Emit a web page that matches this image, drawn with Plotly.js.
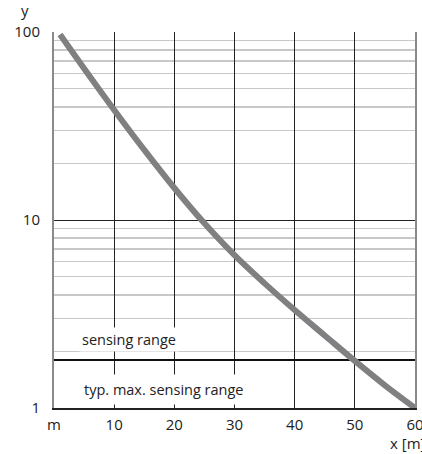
<!DOCTYPE html>
<html>
<head>
<meta charset="utf-8">
<script src="https://cdn.plot.ly/plotly-3.0.1.min.js"></script>
<style>html,body{margin:0;padding:0;background:#fff;overflow:hidden}#chart{width:422px;height:454px}</style>
</head>
<body>
<div id="chart"></div>
<script>
// Data
const distance = [1, 5, 10, 15, 20, 25, 30, 35, 40, 45, 50, 55, 60];
const yValue   = [97, 64, 38.5, 23.6, 14.8, 9.6, 6.5, 4.6, 3.32, 2.43, 1.78, 1.32, 1.0];
const sensingRangeX = [0, 60];
const sensingRangeLevel = 1.8;
const xTickVals = [0, 10, 20, 30, 40, 50, 60];
const xTickText = ['m', '10', '20', '30', '40', '50', '60'];
const yTickVals = [1, 10, 100];
const yTickText = ['1', '10', '100'];
const yMinorVals = [2,3,4,5,6,7,8,9,20,30,40,50,60,70,80,90];

const FONT = 'Open Sans, Noto Sans, sans-serif';

const traces = [
  {
    x: sensingRangeX,
    y: sensingRangeX.map(() => sensingRangeLevel),
    mode: 'lines',
    line: {color: '#111', width: 2},
    hoverinfo: 'skip'
  },
  {
    x: distance,
    y: yValue,
    mode: 'lines',
    line: {color: '#808082', width: 6, shape: 'spline', smoothing: 1},
    hoverinfo: 'skip'
  }
];

const layout = {
  width: 422,
  height: 454,
  margin: {l: 54, r: 7, t: 32, b: 46},
  paper_bgcolor: '#fff',
  plot_bgcolor: '#fff',
  showlegend: false,
  font: {family: FONT, size: 15, color: '#222'},
  xaxis: {
    range: [0, 60],
    tickvals: xTickVals,
    ticktext: xTickText,
    showgrid: true,
    gridcolor: '#222',
    gridwidth: 1,
    zeroline: false,
    showline: true,
    linecolor: '#222',
    linewidth: 2,
    ticks: '',
    ticklabelstandoff: 2,
    ticklabeloverflow: 'allow',
    tickfont: {family: FONT, size: 15, color: '#222'},
    fixedrange: true
  },
  yaxis: {
    type: 'log',
    range: [0, 2],
    tickvals: yTickVals,
    ticktext: yTickText,
    showgrid: true,
    gridcolor: '#222',
    gridwidth: 1,
    zeroline: false,
    showline: true,
    mirror: true,
    linecolor: '#8a8a8a',
    linewidth: 2,
    ticks: '',
    ticklabelstandoff: 9,
    ticklabeloverflow: 'allow',
    tickfont: {family: FONT, size: 15, color: '#222'},
    minor: {
      tickvals: yMinorVals,
      showgrid: true,
      gridcolor: '#c8c8c8',
      gridwidth: 1.5,
      ticks: ''
    },
    fixedrange: true
  },
  annotations: [
    {
      text: 'sensing range', xref: 'x', yref: 'y', x: 4.2, y: 0.362,
      xanchor: 'left', yanchor: 'middle', showarrow: false,
      bgcolor: '#fff', borderpad: 2,
      font: {family: FONT, size: 14.5, color: '#222'}
    },
    {
      text: 'typ. max. sensing range', xref: 'x', yref: 'y', x: 4.0, y: 0.096,
      xanchor: 'left', yanchor: 'middle', showarrow: false,
      bgcolor: '#fff', borderpad: 5,
      font: {family: FONT, size: 14.5, color: '#222'}
    },
    {
      text: 'y', xref: 'paper', yref: 'paper', x: -0.080, y: 1.0585,
      xanchor: 'center', yanchor: 'middle', showarrow: false,
      font: {family: FONT, size: 15, color: '#222'}
    },
    {
      text: 'x [m]', xref: 'paper', yref: 'paper', x: 0.925, y: -0.093,
      xanchor: 'left', yanchor: 'middle', showarrow: false,
      font: {family: FONT, size: 15, color: '#222'}
    }
  ]
};

Plotly.newPlot('chart', traces, layout, {displayModeBar: false, staticPlot: true});
</script>
</body>
</html>
